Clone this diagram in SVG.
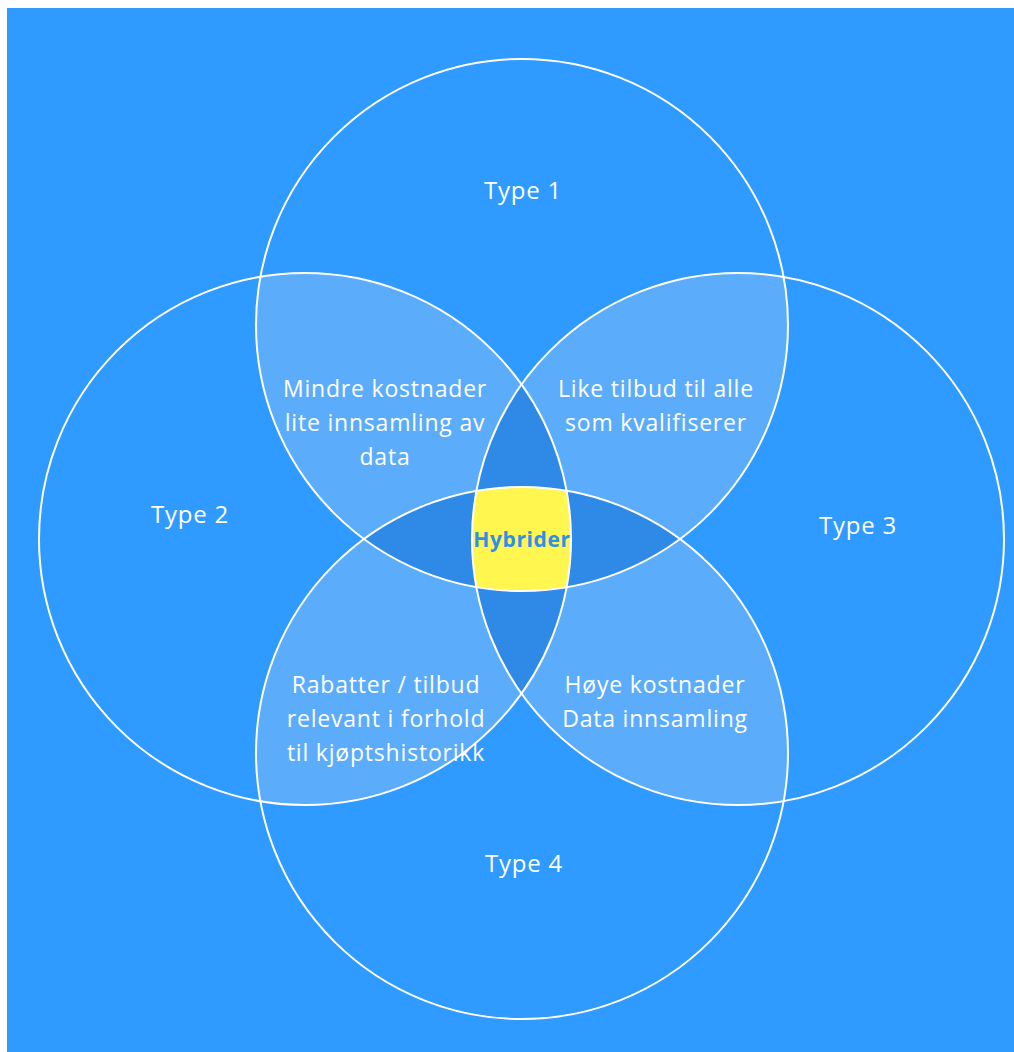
<svg xmlns="http://www.w3.org/2000/svg" width="1014" height="1052" viewBox="0 0 1014 1052">
  <defs>
    <clipPath id="c1"><circle cx="522" cy="325" r="266"/></clipPath>
    <clipPath id="c2"><circle cx="305" cy="539" r="266"/></clipPath>
    <clipPath id="c3"><circle cx="738" cy="539" r="266"/></clipPath>
    <clipPath id="c4"><circle cx="522" cy="753" r="266"/></clipPath>
    <style>
      .ring { fill: none; stroke: #ffffff; stroke-width: 2; }
      .light { fill: #5cacfc; }
      .dark { fill: #2e8ae6; }
      .yellow { fill: #fff650; }
      .lbl { font-family: "Open Sans", "Liberation Sans", sans-serif; font-size: 23px; letter-spacing: 0.8px; fill: #ffffff; text-anchor: middle; }
      .type { font-family: "Open Sans", "Liberation Sans", sans-serif; font-size: 24px; letter-spacing: 0.8px; fill: #ffffff; text-anchor: middle; }
      .hyb { font-family: "Open Sans", "Liberation Sans", sans-serif; font-size: 21px; letter-spacing: 0.6px; font-weight: bold; fill: #2f8fea; text-anchor: middle; }
    </style>
  </defs>
  <rect x="0" y="0" width="1014" height="1052" fill="#ffffff"/>
  <rect x="7" y="8" width="1007" height="1044" fill="#2f9aff"/>

  <g id="regions">
    <circle class="light" cx="305" cy="539" r="266" clip-path="url(#c1)"/>
    <circle class="light" cx="738" cy="539" r="266" clip-path="url(#c1)"/>
    <circle class="light" cx="305" cy="539" r="266" clip-path="url(#c4)"/>
    <circle class="light" cx="738" cy="539" r="266" clip-path="url(#c4)"/>
    <circle class="dark" cx="522" cy="753" r="266" clip-path="url(#c1)"/>
    <circle class="dark" cx="738" cy="539" r="266" clip-path="url(#c2)"/>
    <g clip-path="url(#c1)"><g clip-path="url(#c2)"><g clip-path="url(#c3)">
      <circle class="yellow" cx="522" cy="753" r="266"/>
    </g></g></g>
  </g>

  <g id="type1">
    <circle class="ring" cx="522" cy="325" r="266"/>
    <text class="type" x="523" y="199">Type 1</text>
  </g>
  <g id="type2">
    <circle class="ring" cx="305" cy="539" r="266"/>
    <text class="type" x="190" y="523">Type 2</text>
  </g>
  <g id="type3">
    <circle class="ring" cx="738" cy="539" r="266"/>
    <text class="type" x="858" y="534">Type 3</text>
  </g>
  <g id="type4">
    <circle class="ring" cx="522" cy="753" r="266"/>
    <text class="type" x="524" y="872">Type 4</text>
  </g>

  <g id="overlap12">
    <text class="lbl" x="385" y="397">Mindre kostnader</text>
    <text class="lbl" x="385" y="431">lite innsamling av</text>
    <text class="lbl" x="385" y="465">data</text>
  </g>
  <g id="overlap13">
    <text class="lbl" x="656" y="397">Like tilbud til alle</text>
    <text class="lbl" x="656" y="431">som kvalifiserer</text>
  </g>
  <g id="overlap24">
    <text class="lbl" x="386" y="693">Rabatter / tilbud</text>
    <text class="lbl" x="386" y="727">relevant i forhold</text>
    <text class="lbl" x="386" y="761">til kjøptshistorikk</text>
  </g>
  <g id="overlap34">
    <text class="lbl" x="655" y="693">Høye kostnader</text>
    <text class="lbl" x="655" y="727">Data innsamling</text>
  </g>
  <g id="hybrider">
    <text class="hyb" x="522" y="547">Hybrider</text>
  </g>
</svg>
